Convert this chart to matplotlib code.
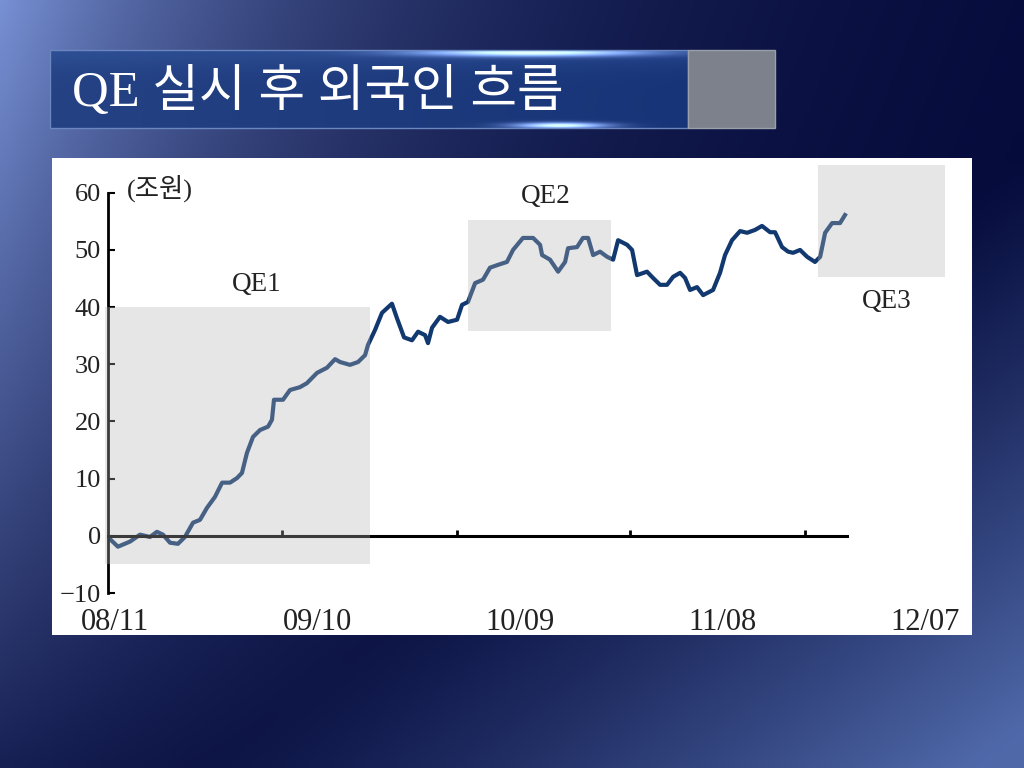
import numpy as np
import matplotlib
matplotlib.use("Agg")
import matplotlib.pyplot as plt
from matplotlib.patches import Rectangle

plt.rcParams["font.family"] = ["Liberation Serif", "Noto Sans CJK KR", "DejaVu Sans"]

# =========================
# Data
# =========================

# months since 2008-11, cumulative foreign flow (trillion won)
months = [
    -0.43, 0.16, 0.82, 1.36, 1.90, 2.28, 2.61, 2.99, 3.42, 3.80,
    4.24, 4.62, 5.00, 5.43, 5.82, 6.25, 6.63, 6.90, 7.17, 7.50,
    7.88, 8.32, 8.53, 8.64, 9.13, 9.51, 10.05, 10.43, 10.98, 11.52,
    11.96, 12.23, 12.77, 13.21, 13.59, 13.75, 14.13, 14.51, 15.05, 15.33,
    15.71, 16.14, 16.47, 16.85, 17.01, 17.23, 17.66, 18.10, 18.59, 18.86,
    19.18, 19.57, 20.00, 20.38, 20.82, 21.30, 21.63, 22.17, 22.72, 23.10,
    23.21, 23.64, 24.08, 24.46, 24.62, 25.11, 25.43, 25.71, 25.98, 26.36,
    26.74, 27.07, 27.34, 27.83, 28.10, 28.37, 28.91, 29.24, 29.62, 30.00,
    30.33, 30.71, 30.98, 31.25, 31.63, 31.96, 32.50, 32.88, 33.15, 33.53,
    33.97, 34.35, 34.78, 35.16, 35.60, 35.87, 36.25, 36.58, 36.85, 37.23,
    37.61, 38.04, 38.32, 38.59, 38.97, 39.40, 39.67,
]
flows = [
    -0.1, -1.9, -1.0, 0.2, -0.2, 0.7, 0.2, -1.2, -1.4, -0.2,
    2.3, 2.8, 4.9, 6.8, 9.3, 9.3, 10.1, 11.0, 14.5, 17.3,
    18.5, 19.1, 20.3, 23.8, 23.8, 25.5, 26.0, 26.7, 28.5, 29.4,
    30.9, 30.4, 29.9, 30.4, 31.6, 33.4, 36.0, 39.0, 40.6, 38.0,
    34.7, 34.2, 35.7, 35.1, 33.7, 36.4, 38.3, 37.4, 37.8, 40.4,
    40.9, 44.2, 44.8, 46.9, 47.4, 47.9, 50.0, 52.1, 52.1, 50.9,
    49.1, 48.3, 46.2, 47.9, 50.3, 50.5, 52.1, 52.1, 49.1, 49.7,
    48.8, 48.3, 51.7, 50.9, 50.0, 45.6, 46.2, 45.1, 43.9, 43.9,
    45.3, 46.0, 45.1, 43.0, 43.5, 42.1, 43.0, 46.0, 49.1, 51.7,
    53.3, 53.0, 53.5, 54.2, 53.1, 53.1, 50.5, 49.7, 49.5, 50.0,
    48.8, 47.9, 48.8, 53.0, 54.7, 54.7, 56.1,
]

# QE periods (shaded boxes)
qe_names = ["QE1", "QE2", "QE3"]
qe_start = [-0.54, 19.18, 38.2]
qe_end = [13.86, 26.96, 45.1]
qe_low = [-5.0, 35.8, 45.3]
qe_high = [40.0, 55.2, 64.9]

label_months = [0, 11, 22, 33, 44]
label_text = ["08/11", "09/10", "10/09", "11/08", "12/07"]
tick_months = [9.08, 18.6, 28.0, 37.5]
y_ticks = [-10, 0, 10, 20, 30, 40, 50, 60]

title = "QE 실시 후 외국인 흐름"
unit = "(조원)"

# =========================
# Slide background
# =========================

fig = plt.figure(figsize=(10.24, 7.68), dpi=100)

bg = fig.add_axes([0, 0, 1, 1])
bg.set_axis_off()

H, W = 192, 256
yy, xx = np.mgrid[0:H, 0:W]
u = xx / (W - 1)
v = yy / (H - 1)
a = np.exp(-u * 1024 / 360) * (1 - 0.8 * v)
b = np.clip((u + v - 1.2) / 0.75, 0, 1) ** 1.1
dark = np.array([0, 5, 52])
left_light = np.array([120, 140, 160])
br_light = np.array([78, 98, 115])
img = dark + a[..., None] * left_light + b[..., None] * br_light
bg.imshow(np.clip(img, 0, 255).astype(np.uint8), extent=(0, 1024, 768, 0),
          aspect="auto", interpolation="bicubic")

# title banner
bh, bw = 78, 638
by, bx = np.mgrid[0:bh, 0:bw]
base = np.array([36, 66, 132]) * (1 - bx / bw)[..., None] + np.array([24, 52, 120]) * (bx / bw)[..., None]
glow1 = np.exp(-((bx - 480) / 110.0) ** 2 - ((by - 2) / 4.0) ** 2)
glow2 = np.exp(-((bx - 510) / 45.0) ** 2 - ((by - 75) / 3.0) ** 2)
glow3 = np.exp(-((by - 0) / 18.0) ** 2) * 0.25
banner = base + (glow1 + glow2)[..., None] * np.array([200, 215, 235]) \
    + glow3[..., None] * np.array([40, 50, 60])
bg.imshow(np.clip(banner, 0, 255).astype(np.uint8), extent=(50, 688, 128, 50),
          aspect="auto", interpolation="bilinear")
bg.add_patch(Rectangle((50, 50), 638, 78, facecolor="none",
                       edgecolor="#6a88bf", linewidth=1))
bg.add_patch(Rectangle((688, 50), 87, 78, facecolor="#7c818b",
                       edgecolor="#9aa0aa", linewidth=1))

bg.text(72, 92, title, color="white", fontsize=36.5, va="center", ha="left")

# white panel
bg.add_patch(Rectangle((52, 158), 920, 477, facecolor="white", edgecolor="none"))

bg.set_xlim(0, 1024)
bg.set_ylim(768, 0)

# =========================
# Chart
# =========================

ax = fig.add_axes([108 / 1024, 175 / 768, 852 / 1024, 435 / 768])
ax.patch.set_visible(False)

ax.plot(months, flows, color="#12396f", linewidth=3, zorder=2)

for name, x0, x1, y0, y1 in zip(qe_names, qe_start, qe_end, qe_low, qe_high):
    ax.add_patch(Rectangle((x0, y0), x1 - x0, y1 - y0, facecolor="#b4b4b4",
                           edgecolor="none", alpha=0.33, zorder=3, clip_on=False))

ax.text(7.7, 43.9, "QE1", fontsize=19.5, ha="center", va="center", color="#222222")
ax.text(23.4, 59.3, "QE2", fontsize=19.5, ha="center", va="center", color="#222222")
ax.text(41.96, 40.9, "QE3", fontsize=19.5, ha="center", va="center", color="#222222")
ax.text(0.65, 60.8, unit, fontsize=19, ha="left", va="center", color="#222222")

ax.set_xlim(-0.38, 45.92)
ax.set_ylim(-10, 66.08)

ax.spines["top"].set_visible(False)
ax.spines["right"].set_visible(False)
ax.spines["left"].set_bounds(-10, 60)
ax.spines["left"].set_linewidth(2)
ax.spines["bottom"].set_position(("data", 0))
ax.spines["bottom"].set_bounds(-0.38, 39.8)
ax.spines["bottom"].set_linewidth(2.2)

ax.set_yticks(y_ticks)
ax.tick_params(axis="y", direction="in", length=5, width=1.5,
               labelsize=19, pad=5, labelcolor="#222222")

ax.set_xticks(tick_months)
ax.tick_params(axis="x", direction="in", length=4.5, width=2, labelbottom=False)

secax = ax.secondary_xaxis("bottom")
secax.set_xticks(label_months, label_text)
secax.tick_params(length=0, pad=11, labelsize=22, labelcolor="#222222")
secax.spines["bottom"].set_visible(False)

fig.savefig("out.png", dpi=100)
